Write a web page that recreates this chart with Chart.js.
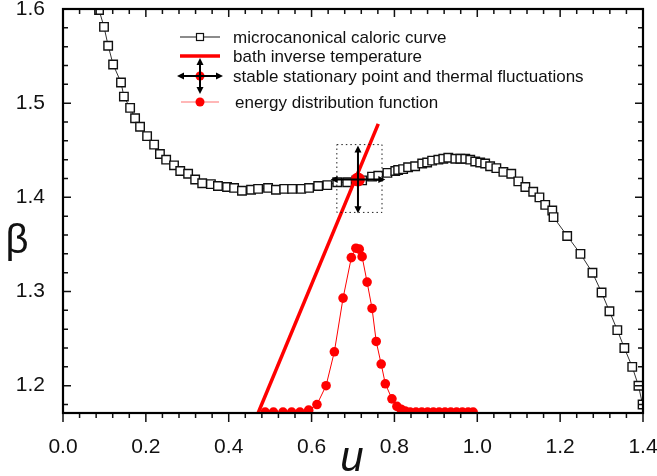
<!DOCTYPE html>
<html>
<head>
<meta charset="utf-8">
<script src="https://cdn.jsdelivr.net/npm/chart.js@4.4.1/dist/chart.umd.min.js"></script>
<style>
  html, body { margin: 0; padding: 0; background: #fff; }
  canvas { display: block; }
</style>
</head>
<body>
<canvas id="caloricChart" width="657" height="476"></canvas>
<script>
// Microcanonical caloric curve beta(u)
const calU = [0.087, 0.099, 0.109, 0.121, 0.140, 0.147, 0.162, 0.174, 0.186, 0.203,
    0.220, 0.234, 0.249, 0.268, 0.283, 0.302, 0.319, 0.336, 0.357, 0.374,
    0.396, 0.413, 0.432, 0.454, 0.471, 0.495, 0.514, 0.534, 0.553, 0.575,
    0.594, 0.616, 0.638, 0.662, 0.686, 0.708, 0.722, 0.746, 0.761, 0.783,
    0.802, 0.809, 0.821, 0.833, 0.850, 0.867, 0.879, 0.891, 0.906, 0.918,
    0.930, 0.947, 0.959, 0.971, 0.983, 0.995, 1.007, 1.019, 1.031, 1.046,
    1.063, 1.082, 1.099, 1.116, 1.135, 1.150, 1.164, 1.181, 1.184, 1.217,
    1.249, 1.278, 1.300, 1.319, 1.338, 1.355, 1.374, 1.389, 1.399];
const calBeta = [1.599, 1.581, 1.561, 1.541, 1.522, 1.507, 1.495, 1.484, 1.475, 1.465,
    1.456, 1.446, 1.440, 1.434, 1.428, 1.425, 1.419, 1.415, 1.414, 1.412,
    1.411, 1.410, 1.407, 1.408, 1.409, 1.410, 1.408, 1.409, 1.409, 1.409,
    1.410, 1.412, 1.413, 1.416, 1.416, 1.418, 1.418, 1.422, 1.423, 1.426,
    1.428, 1.429, 1.430, 1.432, 1.433, 1.436, 1.437, 1.439, 1.440, 1.441,
    1.442, 1.441, 1.441, 1.441, 1.440, 1.438, 1.437, 1.436, 1.433, 1.431,
    1.427, 1.425, 1.417, 1.411, 1.406, 1.400, 1.392, 1.386, 1.379, 1.359,
    1.340, 1.320, 1.299, 1.279, 1.259, 1.240, 1.220, 1.200, 1.180];

// Bath inverse temperature (straight line)
const bathU = [0.471, 0.761];
const bathBeta = [1.171, 1.478];

// Energy distribution function (scaled onto the beta axis)
const distU = [0.488, 0.508, 0.531, 0.552, 0.572, 0.593, 0.613, 0.635, 0.655, 0.676,
    0.696, 0.707, 0.715, 0.722, 0.734, 0.746, 0.756, 0.768, 0.778, 0.794,
    0.806, 0.816, 0.826, 0.838, 0.852, 0.866, 0.880, 0.894, 0.908, 0.922,
    0.936, 0.950, 0.964, 0.978, 0.990];
const distBeta = [1.172, 1.172, 1.172, 1.172, 1.172, 1.174, 1.180, 1.200, 1.236, 1.293,
    1.336, 1.346, 1.345, 1.337, 1.310, 1.282, 1.247, 1.223, 1.202, 1.186,
    1.178, 1.175, 1.173, 1.172, 1.172, 1.172, 1.172, 1.172, 1.172, 1.172,
    1.172, 1.172, 1.172, 1.172, 1.172];

// Stable stationary point and its thermal fluctuations
const statU = [0.712];
const statBeta = [1.419];
const statErrU = [0.066];
const statErrBeta = [0.036];

// Dotted box around the stationary point
const boxU = [0.661, 0.770, 0.770, 0.661, 0.661];
const boxBeta = [1.456, 1.456, 1.384, 1.384, 1.456];

// Axis ticks
const xTicks = [0.0, 0.2, 0.4, 0.6, 0.8, 1.0, 1.2, 1.4];
const yTicks = [1.2, 1.3, 1.4, 1.5, 1.6];
const xMinorStep = 0.04;
const yMinorStep = 0.02;

const FONT = '"Liberation Sans", Arial, Helvetica, sans-serif';
const RED = '#ff0000';

const pts = (xs, ys) => xs.map((v, i) => ({ x: v, y: ys[i] }));

function arrowHead(ctx, x, y, dx, dy) {
    const len = 7, half = 3.5;
    const nx = -dy, ny = dx;
    ctx.beginPath();
    ctx.moveTo(x, y);
    ctx.lineTo(x - dx * len + nx * half, y - dy * len + ny * half);
    ctx.lineTo(x - dx * len - nx * half, y - dy * len - ny * half);
    ctx.closePath();
    ctx.fill();
}

// cross of double-headed arrows
function drawCross(ctx, cx, cy, left, right, top, bottom) {
    ctx.save();
    ctx.strokeStyle = '#000';
    ctx.fillStyle = '#000';
    ctx.lineWidth = 2;
    ctx.beginPath();
    ctx.moveTo(left + 5, cy); ctx.lineTo(right - 5, cy);
    ctx.moveTo(cx, top + 5); ctx.lineTo(cx, bottom - 5);
    ctx.stroke();
    arrowHead(ctx, left, cy, -1, 0);
    arrowHead(ctx, right, cy, 1, 0);
    arrowHead(ctx, cx, top, 0, -1);
    arrowHead(ctx, cx, bottom, 0, 1);
    ctx.restore();
}

const frameAndTicks = {
    id: 'frameAndTicks',
    afterDatasetsDraw(chart) {
        const { ctx, chartArea: a, scales: { x, y } } = chart;

        // fluctuation arrows on the stationary point
        const sx = x.getPixelForValue(statU[0]);
        const sy = y.getPixelForValue(statBeta[0]);
        drawCross(ctx, sx, sy,
            x.getPixelForValue(statU[0] - statErrU[0]),
            x.getPixelForValue(statU[0] + statErrU[0]),
            y.getPixelForValue(statBeta[0] + statErrBeta[0]),
            y.getPixelForValue(statBeta[0] - statErrBeta[0]));

        ctx.save();
        ctx.strokeStyle = '#111';
        ctx.lineWidth = 1.5;
        ctx.beginPath();
        const isMajor = (list, v) => list.some(t => Math.abs(t - v) < 1e-6);
        const nx = Math.round((x.max - x.min) / xMinorStep);
        for (let i = 0; i <= nx; i++) {
            const v = x.min + i * xMinorStep;
            const px = x.getPixelForValue(v);
            const major = isMajor(xTicks, v);
            ctx.moveTo(px, a.bottom); ctx.lineTo(px, a.bottom + (major ? 9 : 5));
            ctx.moveTo(px, a.top); ctx.lineTo(px, a.top + (major ? 8 : 5));
        }
        for (let v = Math.ceil(y.min / yMinorStep - 1e-6) * yMinorStep; v <= y.max + 1e-6; v += yMinorStep) {
            const py = y.getPixelForValue(v);
            const major = isMajor(yTicks, v);
            ctx.moveTo(a.left, py); ctx.lineTo(a.left + (major ? 8 : 5), py);
            ctx.moveTo(a.right, py); ctx.lineTo(a.right - (major ? 8 : 5), py);
        }
        ctx.stroke();

        ctx.lineWidth = 2.2;
        ctx.strokeStyle = '#000';
        ctx.strokeRect(a.left, a.top, a.right - a.left, a.bottom - a.top);
        ctx.restore();
    },
    afterDraw(chart) {
        const ctx = chart.ctx;
        ctx.save();

        // axis titles
        ctx.fillStyle = '#111';
        ctx.textAlign = 'center';
        ctx.textBaseline = 'middle';
        ctx.font = '40px ' + FONT;
        ctx.fillText('β', 17, 242);
        ctx.textBaseline = 'alphabetic';
        ctx.font = 'italic 42px ' + FONT;
        ctx.fillText('u', 352, 471);

        // legend
        const sym = 200;
        ctx.lineWidth = 1.5;
        ctx.strokeStyle = '#666';
        ctx.beginPath();
        ctx.moveTo(180, 37); ctx.lineTo(196, 37);
        ctx.moveTo(204, 37); ctx.lineTo(220, 37);
        ctx.stroke();
        ctx.fillStyle = '#fff';
        ctx.strokeStyle = '#111';
        ctx.lineWidth = 1.2;
        ctx.fillRect(sym - 3.5, 33.5, 7, 7);
        ctx.strokeRect(sym - 3.5, 33.5, 7, 7);

        ctx.strokeStyle = RED;
        ctx.lineWidth = 3.5;
        ctx.beginPath();
        ctx.moveTo(180, 56); ctx.lineTo(220, 56);
        ctx.stroke();

        ctx.fillStyle = RED;
        ctx.beginPath();
        ctx.arc(sym, 76, 4.5, 0, Math.PI * 2);
        ctx.fill();
        drawCross(ctx, sym, 76, 177, 223, 58, 94);

        ctx.strokeStyle = '#ff7070';
        ctx.lineWidth = 1.2;
        ctx.beginPath();
        ctx.moveTo(181, 102); ctx.lineTo(219, 102);
        ctx.stroke();
        ctx.fillStyle = RED;
        ctx.beginPath();
        ctx.arc(sym, 102, 4.5, 0, Math.PI * 2);
        ctx.fill();

        ctx.fillStyle = '#111';
        ctx.font = '17px ' + FONT;
        ctx.textAlign = 'left';
        ctx.textBaseline = 'middle';
        ctx.fillText('microcanonical caloric curve', 233, 38);
        ctx.fillText('bath inverse temperature', 233, 57);
        ctx.fillText('stable stationary point and thermal fluctuations', 233, 77);
        ctx.fillText('energy distribution function', 235, 103);
        ctx.restore();
    }
};

new Chart(document.getElementById('caloricChart'), {
    type: 'line',
    data: {
        datasets: [
            {
                label: 'stable stationary point and thermal fluctuations',
                data: pts(statU, statBeta),
                showLine: false,
                pointRadius: 7,
                pointBackgroundColor: RED,
                pointBorderWidth: 0,
                order: 0
            },
            {
                label: 'box',
                data: pts(boxU, boxBeta),
                borderColor: '#222',
                borderWidth: 1,
                borderDash: [1.5, 3],
                pointRadius: 0,
                order: 1
            },
            {
                label: 'bath inverse temperature',
                data: pts(bathU, bathBeta),
                borderColor: RED,
                borderWidth: 3.5,
                pointRadius: 0,
                order: 2
            },
            {
                label: 'energy distribution function',
                data: pts(distU, distBeta),
                borderColor: RED,
                borderWidth: 1,
                pointRadius: 4.8,
                pointBackgroundColor: RED,
                pointBorderWidth: 0,
                order: 3
            },
            {
                label: 'microcanonical caloric curve',
                data: pts(calU, calBeta),
                borderColor: '#333',
                borderWidth: 1,
                pointStyle: 'rect',
                pointRadius: 6,
                pointBackgroundColor: '#fff',
                pointBorderColor: '#111',
                pointBorderWidth: 1.4,
                order: 4
            }
        ]
    },
    options: {
        responsive: false,
        animation: false,
        devicePixelRatio: 1,
        layout: { padding: { top: 9, right: 14, left: 0, bottom: 0 } },
        plugins: { legend: { display: false }, tooltip: { enabled: false } },
        elements: { line: { tension: 0 } },
        scales: {
            x: {
                type: 'linear',
                min: 0,
                max: 1.4,
                grid: { display: false },
                border: { display: false },
                afterBuildTicks: s => { s.ticks = xTicks.map(v => ({ value: v })); },
                afterFit: s => { s.height = 63; s.paddingLeft = 0; s.paddingRight = 0; },
                ticks: {
                    padding: 14,
                    maxRotation: 0,
                    color: '#111',
                    font: { family: FONT, size: 21 },
                    callback: v => v.toFixed(1)
                }
            },
            y: {
                type: 'linear',
                min: 1.171,
                max: 1.6,
                grid: { display: false },
                border: { display: false },
                afterBuildTicks: s => { s.ticks = yTicks.map(v => ({ value: v })); },
                afterFit: s => { s.width = 63; s.paddingTop = 0; s.paddingBottom = 0; },
                ticks: {
                    padding: 10,
                    color: '#111',
                    font: { family: FONT, size: 21 },
                    callback: v => v.toFixed(1)
                }
            }
        }
    },
    plugins: [frameAndTicks]
});
</script>
</body>
</html>
